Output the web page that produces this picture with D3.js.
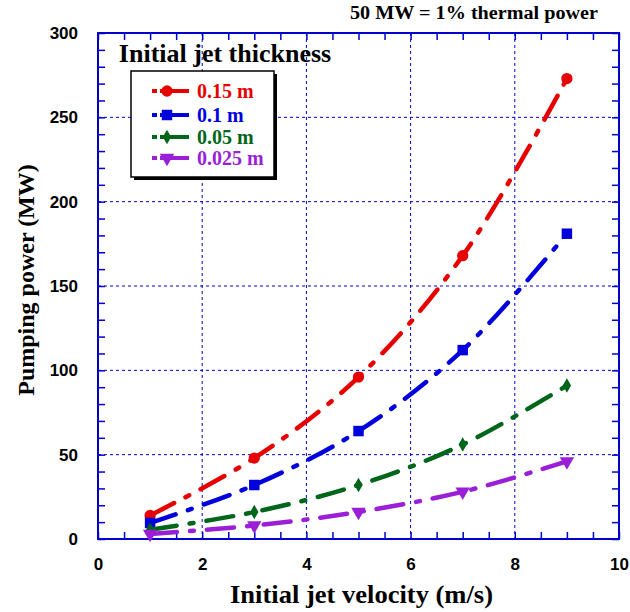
<!DOCTYPE html>
<html><head><meta charset="utf-8">
<script src="https://cdn.jsdelivr.net/npm/d3@7"></script>
<style>body{margin:0;background:#fff}</style>
</head><body>
<svg id="c" width="630" height="612"></svg>
<script>
const velocities = [1, 3, 5, 7, 9];
const seriesNames = ["0.15 m", "0.1 m", "0.05 m", "0.025 m"];
const power015 = [14, 48, 96, 168, 273];
const power010 = [9.5, 32, 64, 112, 181];
const power005 = [5.5, 16, 32, 56, 91];
const power0025 = [3, 8, 16, 28, 46];
const xTicks = [0, 2, 4, 6, 8, 10];
const yTicks = [0, 50, 100, 150, 200, 250, 300];

const colors = ["#e60000", "#0000dd", "#006619", "#9a1fd6"];
const symbols = [d3.symbolCircle, d3.symbolSquare, d3.symbolDiamond, d3.symbolTriangle];
const symSizes = [100, 110, 60, 90];
const allSeries = [power015, power010, power005, power0025];

const svg = d3.select("#c");
const L = 98, R = 619, T = 33, B = 539;
const x = d3.scaleLinear().domain([0, 10]).range([L, R]);
const y = d3.scaleLinear().domain([0, 300]).range([B, T]);
const axisColor = "#0000cc";
const serif = "Liberation Serif, Times New Roman, serif";

// grid
const g = svg.append("g");
g.selectAll(".gx").data(xTicks.filter(d => d > 0 && d < 10)).enter().append("line")
  .attr("x1", d => x(d)).attr("x2", d => x(d)).attr("y1", T).attr("y2", B)
  .attr("stroke", axisColor).attr("stroke-width", 1).attr("stroke-dasharray", "3,3");
g.selectAll(".gy").data(yTicks.filter(d => d > 0 && d < 300)).enter().append("line")
  .attr("y1", d => y(d)).attr("y2", d => y(d)).attr("x1", L).attr("x2", R)
  .attr("stroke", axisColor).attr("stroke-width", 1).attr("stroke-dasharray", "3,3");

// axes with inward ticks
function styleAxis(sel) {
  sel.select(".domain").remove();
  sel.selectAll("line").attr("stroke", axisColor).attr("stroke-width", 1.5);
  sel.selectAll("text").attr("font-family", "Liberation Sans, Arial, sans-serif")
    .attr("font-weight", "bold").attr("font-size", 17).attr("fill", "#000");
}
const xMinor = d3.range(0, 10.01, 0.5);
const yMinor = d3.range(0, 300.1, 10);
svg.append("g").attr("transform", `translate(0,${B})`)
  .call(d3.axisBottom(x).tickValues(xMinor).tickSize(-7).tickPadding(19)
    .tickFormat(d => xTicks.includes(d) ? d : ""))
  .call(styleAxis);
svg.append("g").attr("transform", `translate(0,${T})`)
  .call(d3.axisTop(x).tickValues(xMinor).tickSize(-7).tickFormat(""))
  .call(styleAxis);
svg.append("g").attr("transform", `translate(${L},0)`)
  .call(d3.axisLeft(y).tickValues(yMinor).tickSize(-7).tickPadding(20)
    .tickFormat(d => yTicks.includes(d) ? d : ""))
  .call(styleAxis);
svg.append("g").attr("transform", `translate(${R},0)`)
  .call(d3.axisRight(y).tickValues(yMinor).tickSize(-7).tickFormat(""))
  .call(styleAxis);

svg.append("rect").attr("x", L).attr("y", T).attr("width", R - L).attr("height", B - T)
  .attr("fill", "none").attr("stroke", axisColor).attr("stroke-width", 2);

// series
const line = d3.line().curve(d3.curveCatmullRom.alpha(0.5)).x(d => x(d[0])).y(d => y(d[1]));
allSeries.forEach((vals, i) => {
  const pts = velocities.map((v, j) => [v, vals[j]]);
  svg.append("path").attr("d", line(pts)).attr("fill", "none")
    .attr("stroke", colors[i]).attr("stroke-width", 4.5).attr("stroke-linecap", "round")
    .attr("stroke-dasharray", "27,13,4,13");
  svg.selectAll(null).data(pts).enter().append("path")
    .attr("transform", d => `translate(${x(d[0])},${y(d[1])})` + (i === 3 ? " rotate(180)" : ""))
    .attr("d", d3.symbol().type(symbols[i]).size(symSizes[i]))
    .attr("fill", colors[i]);
});

// legend
svg.append("text").attr("x", 225).attr("y", 62).attr("text-anchor", "middle")
  .attr("font-family", serif).attr("font-weight", "bold")
  .attr("font-size", 26).text("Initial jet thickness");
svg.append("rect").attr("x", 134).attr("y", 74).attr("width", 143).attr("height", 106).attr("fill", "#000");
svg.append("rect").attr("x", 131).attr("y", 71).attr("width", 143).attr("height", 106)
  .attr("fill", "#fff").attr("stroke", "#000").attr("stroke-width", 1.5);
const legRows = [91, 115, 137, 158];
seriesNames.forEach((name, i) => {
  const ly = legRows[i];
  svg.append("line").attr("x1", 152).attr("x2", 189).attr("y1", ly).attr("y2", ly)
    .attr("stroke", colors[i]).attr("stroke-width", 4).attr("stroke-dasharray", "5,3,30");
  svg.append("path").attr("transform", `translate(167,${ly})` + (i === 3 ? " rotate(180)" : ""))
    .attr("d", d3.symbol().type(symbols[i]).size(symSizes[i])).attr("fill", colors[i]);
  svg.append("text").attr("x", 197).attr("y", ly + 7)
    .attr("font-family", serif).attr("font-weight", "bold")
    .attr("font-size", 20).attr("fill", colors[i]).text(name);
});

// titles
svg.append("text").attr("x", 350).attr("y", 19)
  .attr("font-family", serif).attr("font-weight", "bold")
  .attr("font-size", 18).attr("textLength", 248).attr("lengthAdjust", "spacingAndGlyphs")
  .text("50 MW = 1% thermal power");
svg.append("text").attr("x", 230).attr("y", 603)
  .attr("font-family", serif).attr("font-weight", "bold")
  .attr("font-size", 26).attr("textLength", 263).attr("lengthAdjust", "spacingAndGlyphs")
  .text("Initial jet velocity (m/s)");
svg.append("text").attr("transform", "translate(34,280) rotate(-90)").attr("text-anchor", "middle")
  .attr("font-family", serif).attr("font-weight", "bold")
  .attr("font-size", 24).text("Pumping power (MW)");
</script>
</body></html>
